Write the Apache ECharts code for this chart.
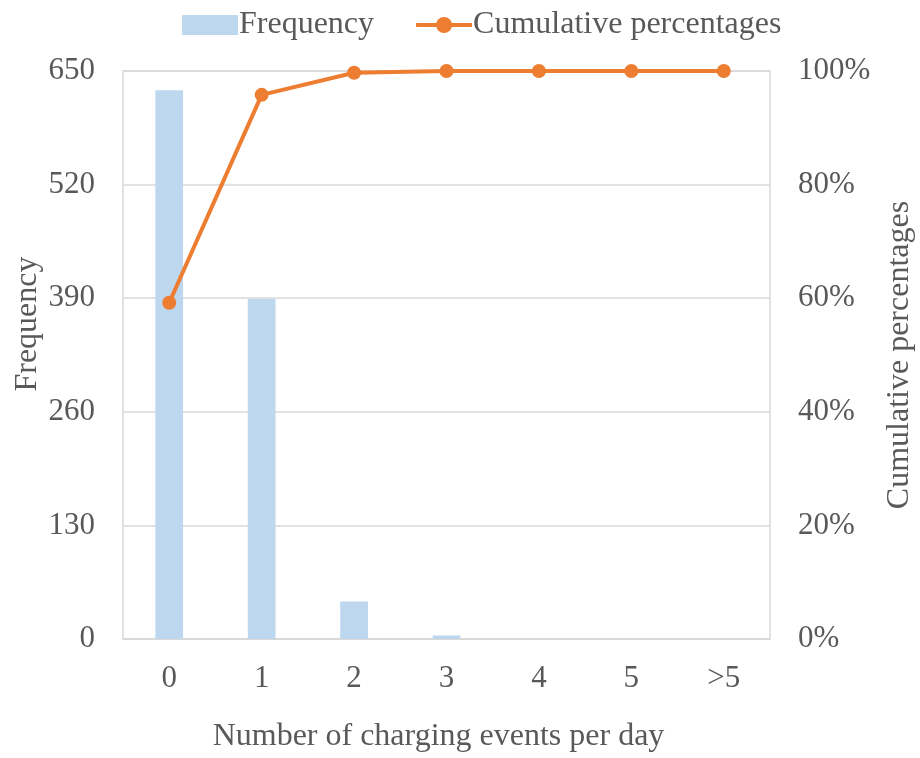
<!DOCTYPE html>
<html><head><meta charset="utf-8">
<script src="https://cdn.jsdelivr.net/npm/echarts@6/dist/echarts.min.js"></script>
<style>html,body{margin:0;padding:0;background:#fff}#c{width:920px;height:758px}</style>
</head><body><div id="c"></div>
<script>
const categories = ['0','1','2','3','4','5','>5'];
const frequency = [628, 389, 43, 4, 0, 0, 0];
const cumulative = [59.2, 95.8, 99.7, 100, 100, 100, 100];
const leftTicks = [0, 130, 260, 390, 520, 650];

const font = 'Liberation Serif, Times New Roman, serif';
const txt = '#595959';
const fs = 31;
const fsN = 32;
const chart = echarts.init(document.getElementById('c'));
chart.setOption({
  animation: false,
  textStyle: {fontFamily: font},
  legend: {
    top: 4, left: 177, itemGap: 40, itemWidth: 56, itemHeight: 20,
    textStyle: {fontFamily: font, fontSize: fsN, color: txt, padding:[0,0,0,-4]},
    data: [
      {name: 'Frequency', icon: 'rect'},
      {name: 'Cumulative percentages', lineStyle: {width: 4, color: '#ED7D31'}}
    ]
  },
  graphic: [
    {type: 'text', x: 28, y: 324, rotation: Math.PI / 2,
     style: {text: 'Frequency', font: fsN + 'px ' + font, fill: txt, align: 'center', verticalAlign: 'middle'}}
  ],
  grid: {left: 123, right: 150, top: 71, bottom: 119, show: true, borderColor: '#d9d9d9', borderWidth: 1.5,
         outerBoundsMode: 'none', containLabel: false},
  xAxis: {
    type: 'category', data: categories,
    name: 'Number of charging events per day', nameLocation: 'middle', nameGap: 82,
    nameTextStyle: {fontFamily: font, fontSize: fsN, color: txt, padding: [0, 16, 0, 0]},
    axisLine: {lineStyle: {color: '#d9d9d9', width: 1.5}},
    axisTick: {show: false},
    axisLabel: {fontFamily: font, fontSize: fs, color: txt, margin: 24}
  },
  yAxis: [
    {
      type: 'value', min: 0, max: 650, interval: 130,
      axisLine: {show: false}, axisTick: {show: false},
      axisLabel: {fontFamily: font, fontSize: fs, color: txt, margin: 28},
      splitLine: {lineStyle: {color: '#d9d9d9', width: 1.5}}
    },
    {
      type: 'value', min: 0, max: 100, interval: 20,
      name: 'Cumulative percentages', nameLocation: 'middle', nameGap: 114, nameRotate: 90,
      nameTextStyle: {fontFamily: font, fontSize: fsN, color: txt},
      axisLine: {show: false}, axisTick: {show: false},
      axisLabel: {fontFamily: font, fontSize: fs, color: txt, margin: 28, formatter: '{value}%'},
      splitLine: {show: false}
    }
  ],
  series: [
    {
      name: 'Frequency', type: 'bar', data: frequency, barWidth: '30%',
      itemStyle: {color: '#BDD7EE'}
    },
    {
      name: 'Cumulative percentages', type: 'line', yAxisIndex: 1, data: cumulative,
      symbol: 'circle', symbolSize: 14,
      lineStyle: {color: '#ED7D31', width: 4},
      itemStyle: {color: '#ED7D31'}
    }
  ]
});
</script></body></html>
